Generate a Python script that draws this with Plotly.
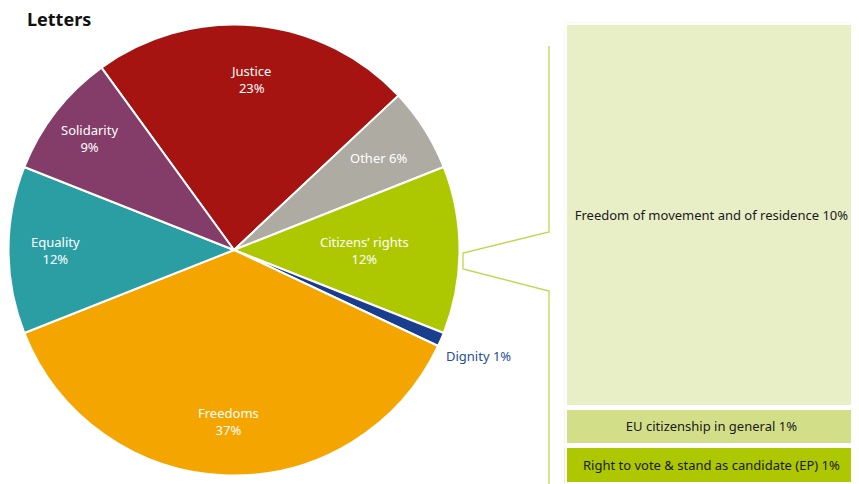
import math

import plotly.graph_objects as go

# the page puts the figure 8px in from the top-left corner, so the figure is
# drawn 8px smaller and every reference pixel is shifted by OFF
W, H = 851, 476
OFF = 8

# pie data, clockwise from the Justice slice
labels = ["Justice", "Other", "Citizens’ rights", "Dignity", "Freedoms", "Equality", "Solidarity"]
values = [23, 6, 12, 1, 37, 12, 9]
one_line = [False, True, False, True, False, False, False]
colors = ["#a51410", "#aeaba3", "#adc800", "#1a3e8e", "#f5a500", "#2b9ea4", "#843c68"]

# breakdown of citizens' rights, top to bottom
sub_labels = [
    "Freedom of movement and of residence",
    "EU citizenship in general",
    "Right to vote & stand as candidate (EP)",
]
sub_values = [10, 1, 1]
sub_colors = ["#e8efc7", "#d3df88", "#adc800"]

# where each label sits, as a share of the radius, and its colour
label_radius = [0.76, 0.76, 0.58, 1.18, 0.76, 0.79, 0.81]
label_colors = ["white", "white", "white", "#1f4e9a", "white", "white", "white"]

FONT = "Noto Sans"
LINE = "#c3d64f"
ROTATION = -36

# pie geometry in figure pixels
CX, CY, R = 234 - OFF, 250 - OFF, 225.5


def px(x):
    return x / W


def py(y):
    return 1 - y / H


fig = go.Figure()

fig.add_trace(
    go.Pie(
        labels=labels,
        values=values,
        textinfo="none",
        marker=dict(colors=colors, line=dict(color="white", width=2)),
        sort=False,
        direction="clockwise",
        rotation=ROTATION,
        showlegend=False,
        hoverinfo="label+percent",
        domain=dict(x=[px(CX - R), px(CX + R)], y=[py(CY + R), py(CY - R)]),
    )
)

# slice labels placed at each slice's mid angle
total = sum(values)
start = ROTATION
for l, v, one, rf, tc in zip(labels, values, one_line, label_radius, label_colors):
    span = v / total * 360
    mid = math.radians(start + span / 2)
    start += span
    fig.add_annotation(
        x=px(CX + rf * R * math.sin(mid)),
        y=py(CY - rf * R * math.cos(mid)),
        xref="paper",
        yref="paper",
        xanchor="center",
        yanchor="middle",
        text=f"{l} {v}%" if one else f"{l}<br>{v}%",
        showarrow=False,
        font=dict(family=FONT, size=13, color=tc),
    )

# stacked column: bottom segment first
for lab, val, col in reversed(list(zip(sub_labels, sub_values, sub_colors))):
    fig.add_trace(
        go.Bar(
            x=[0],
            y=[val],
            width=1,
            marker=dict(color=col, line=dict(color="white", width=5)),
            text=[f"{lab} {val}%"],
            textposition="inside",
            insidetextanchor="middle",
            textangle=0,
            textfont=dict(family=FONT, size=13, color="#1a1a1a"),
            constraintext="none",
            showlegend=False,
            hoverinfo="text",
            xaxis="x",
            yaxis="y",
        )
    )

# bracket linking the pie slice to the column
bx, ix = 549 - OFF, 463 - OFF
fig.add_shape(
    type="path",
    xref="paper",
    yref="paper",
    path=(
        f"M {px(bx)} {py(46 - OFF)} L {px(bx)} {py(232 - OFF)} "
        f"L {px(ix)} {py(253 - OFF)} L {px(ix)} {py(269 - OFF)} "
        f"L {px(bx)} {py(291 - OFF)} L {px(bx)} 0"
    ),
    line=dict(color=LINE, width=1.3),
)

fig.update_layout(
    width=W,
    height=H,
    margin=dict(l=0, r=0, t=0, b=0),
    paper_bgcolor="white",
    plot_bgcolor="white",
    barmode="stack",
    bargap=0,
    font=dict(family=FONT, size=13),
    title=dict(
        text="<b>Letters</b>",
        x=px(27 - OFF),
        xanchor="left",
        y=py(20 - OFF),
        yanchor="middle",
        font=dict(family=FONT, size=18, color="#111111"),
    ),
    xaxis=dict(
        domain=[px(564.5 - OFF), 1],
        range=[-0.5, 0.5],
        visible=False,
        fixedrange=True,
    ),
    yaxis=dict(
        domain=[0, py(22.5 - OFF)],
        range=[0, 12],
        visible=False,
        fixedrange=True,
    ),
)

fig.write_html("out.html")
